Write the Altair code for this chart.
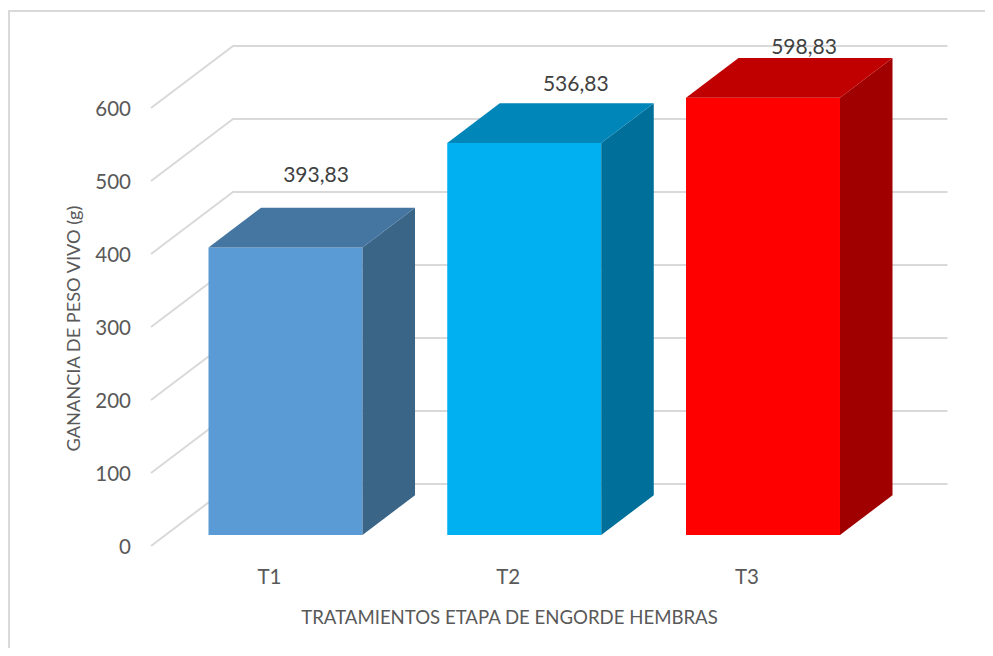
import altair as alt
import pandas as pd

categories = ["T1", "T2", "T3"]
values = [393.83, 536.83, 598.83]
labels = ["393,83", "536,83", "598,83"]
ticks = [0, 100, 200, 300, 400, 500, 600]
front_colors = ["#5B9BD5", "#00B0F0", "#FF0000"]
side_colors = ["#3A6587", "#006F99", "#A00000"]
top_colors = ["#4575A1", "#0086B8", "#C00000"]
centers = [1, 2, 3]

W, H = 977, 640
X_DOM = [-0.1623, 3.9299]
Y_DOM = [-154.8, 721.9]
HALF, DX, DY = 0.3225, 0.22, 54.5
BACK = 69.9
FONT = "Lato"
GREY = "#595959"

xs = alt.Scale(domain=X_DOM, nice=False, zero=False)
ys = alt.Scale(domain=Y_DOM, nice=False, zero=False)
x_axis = alt.Axis(
    values=centers, labelExpr="'T' + datum.value", title="TRATAMIENTOS  ETAPA DE ENGORDE HEMBRAS",
    domain=False, ticks=False, grid=False, offset=-81, labelPadding=0, labelOffset=-16.5,
    labelFont=FONT, labelFontSize=20.5, labelColor=GREY, labelFlush=False, labelOverlap=False,
    titleFont=FONT, titleFontSize=18.6, titleFontWeight="normal", titleColor=GREY,
    titleX=501, titleY=41, titleAnchor="middle", titleAlign="center")
y_axis = alt.Axis(
    values=ticks, domain=False, ticks=False, grid=False, offset=-122.5, labelPadding=0, labelOffset=13,
    labelFont=FONT, labelFontSize=20.5, labelColor=GREY, labelFlush=False, labelOverlap=False,
    title="GANANCIA DE PESO VIVO (g)",
    titleFont=FONT, titleFontSize=18.2, titleFontWeight="normal", titleColor=GREY,
    titleX=-47, titleY=320, titleAnchor="middle", titleAlign="center")
X = lambda f: alt.X(f, type="quantitative", scale=xs, axis=x_axis)
Y = lambda f: alt.Y(f, type="quantitative", scale=ys, axis=y_axis)


def col(rng):
    return alt.Color("cat:N", scale=alt.Scale(domain=categories, range=rng), legend=None)


grid_rows = []
for t in ticks:
    grid_rows += [
        {"t": t, "o": 0, "x": 0.4367, "y": t - 15},
        {"t": t, "o": 1, "x": 0.7801, "y": t + BACK},
        {"t": t, "o": 2, "x": 3.7728, "y": t + BACK},
    ]
grid = alt.Chart(pd.DataFrame(grid_rows)).mark_line(color="#D9D9D9", strokeWidth=2).encode(
    x=X("x"), y=Y("y"), order="o:Q", detail="t:N",
)

frame_top = alt.Chart(pd.DataFrame({"x": [X_DOM[0]], "x2": [X_DOM[1]], "y": [717.8]})).mark_rule(
    color="#D9D9D9", strokeWidth=2).encode(x=X("x"), x2="x2", y=Y("y"))
frame_left = alt.Chart(pd.DataFrame({"x": [-0.158], "y": [Y_DOM[0]], "y2": [717.8]})).mark_rule(
    color="#D9D9D9", strokeWidth=2).encode(x=X("x"), y=Y("y"), y2="y2")

front_df = pd.DataFrame({"cat": categories, "x": [c - HALF for c in centers],
                         "x2": [c + HALF for c in centers], "y": values, "y2": [0, 0, 0]})
front = alt.Chart(front_df).mark_rect().encode(x=X("x"), x2="x2", y=Y("y"), y2="y2", color=col(front_colors))

side_rows, top_rows = [], []
for cat, c, v in zip(categories, centers, values):
    side_rows += [
        {"cat": cat, "x": c + HALF, "y": v, "y2": 0},
        {"cat": cat, "x": c + HALF + DX, "y": v + DY, "y2": DY},
    ]
    top_rows += [
        {"cat": cat, "y": v, "x": c - HALF, "x2": c + HALF},
        {"cat": cat, "y": v + DY, "x": c - HALF + DX, "x2": c + HALF + DX},
    ]
side = alt.Chart(pd.DataFrame(side_rows)).mark_area(orient="vertical").encode(
    x=X("x"), y=Y("y"), y2="y2", color=col(side_colors))
top = alt.Chart(pd.DataFrame(top_rows)).mark_area(orient="horizontal").encode(
    y=Y("y"), x=X("x"), x2="x2", color=col(top_colors))

label_shift = [(30.5, -71), (51.5, -58), (41, -50)]
texts = []
for cat, c, v, lab, (dx, dy) in zip(categories, centers, values, labels, label_shift):
    texts.append(
        alt.Chart(pd.DataFrame({"x": [c], "y": [v], "label": [lab]}))
        .mark_text(font=FONT, fontSize=21, color="#404040", dx=dx, dy=dy, baseline="middle", align="center")
        .encode(x=X("x"), y=Y("y"), text="label:N")
    )

chart = alt.layer(grid, frame_top, frame_left, front, side, top, *texts).resolve_scale(
    color="independent"
).properties(
    width=W, height=H, padding=0, autosize=alt.AutoSizeParams(type="none"), background="white",
).configure_view(stroke=None)

chart.save("out.html", embed_options={"renderer": "svg", "actions": False})
